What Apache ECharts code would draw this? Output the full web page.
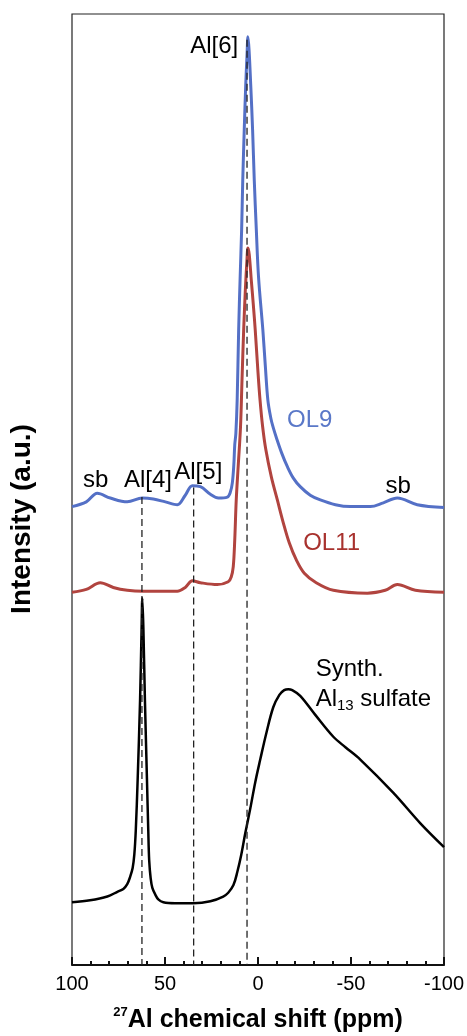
<!DOCTYPE html>
<html>
<head>
<meta charset="utf-8">
<script src="https://cdn.jsdelivr.net/npm/echarts@6/dist/echarts.min.js"></script>
<style>
  html, body { margin: 0; padding: 0; background: #fff; }
  #chart { width: 467px; height: 1036px; }
</style>
</head>
<body>
<div id="chart"></div>
<script>
// 数据（ppm, 强度 a.u.）
const ol9Ppm = [100, 92.3, 86.4, 79.4, 70.3, 62.2, 56.3, 49.8, 43.4, 39.1, 35.3, 31.0, 25.6, 21.3, 16.5, 14.9, 13.8, 13.0, 12.5, 11.9, 11.2, 10.4, 9.6, 8.8, 8.2, 7.4, 6.6, 5.9, 5.4, 4.8, 3.9, 2.9, 2.0, 0.9, -0.3, -2.6, -3.9, -5.3, -6.9, -8.2, -9.8, -12.8, -15.8, -19.0, -22.7, -28.1, -33.5, -41.6, -49.6, -60.4, -67.4, -74.9, -85.6, -100];
const ol9Int = [48.2, 48.7, 49.6, 49.1, 48.7, 49.1, 49.0, 48.7, 48.4, 49.4, 50.4, 50.3, 49.5, 49.1, 49.2, 49.7, 50.7, 52.6, 54.7, 55.9, 59.4, 66.8, 72.3, 77.3, 82.5, 87.8, 92.5, 95.7, 97.6, 96.2, 92.5, 87.8, 82.5, 77.3, 72.3, 66.8, 63.1, 59.4, 57.5, 56.5, 55.5, 53.8, 52.4, 51.2, 50.3, 49.4, 48.9, 48.4, 48.2, 48.2, 48.6, 49.1, 48.4, 48.1];

const ol11Ppm = [100, 92.3, 84.8, 77.8, 70.3, 61.7, 52.5, 43.4, 39.1, 35.3, 31.0, 21.9, 16.0, 14.4, 13.3, 12.5, 11.7, 10.6, 9.4, 8.6, 7.7, 6.8, 6.0, 5.4, 4.7, 3.6, 2.5, 1.5, 0.1, -1.1, -2.5, -4.2, -7.2, -10.4, -13.6, -16.8, -20.6, -24.9, -31.3, -40.5, -58.8, -68.4, -74.9, -84.6, -100];
const ol11Int = [39.2, 39.5, 40.2, 39.7, 39.4, 39.3, 39.3, 39.3, 39.7, 40.4, 40.2, 40.0, 40.3, 40.8, 41.9, 44.7, 48.9, 52.6, 56.6, 61.5, 66.8, 71.0, 73.9, 75.4, 74.7, 72.0, 69.4, 66.8, 62.6, 59.4, 56.6, 54.2, 51.3, 48.9, 46.5, 44.4, 42.6, 41.2, 40.2, 39.4, 39.1, 39.4, 40.0, 39.4, 39.2];

const al13Ppm = [100, 90.3, 81.0, 75.6, 72.4, 70.3, 68.7, 67.4, 66.5, 65.7, 64.7, 63.4, 62.6, 62.2, 61.6, 60.8, 59.7, 59.0, 58.5, 57.7, 56.8, 55.2, 53.6, 50.9, 44.5, 34.8, 25.6, 18.7, 16.0, 13.2, 11.1, 9.0, 6.8, 4.1, 1.5, -1.2, -4.5, -8.2, -11.5, -14.1, -16.3, -18.4, -22.7, -30.8, -40.5, -47.0, -55.0, -72.8, -87.3, -100];
const al13Int = [6.6, 6.8, 7.2, 7.7, 8.0, 8.5, 9.3, 10.2, 11.6, 14.2, 19.5, 27.9, 35.2, 38.6, 35.2, 27.9, 19.5, 14.2, 11.0, 9.1, 8.1, 7.4, 6.9, 6.6, 6.5, 6.5, 6.7, 7.2, 7.6, 8.4, 9.8, 11.6, 13.9, 16.5, 19.2, 21.6, 24.4, 27.1, 28.4, 28.9, 29.0, 28.9, 28.3, 26.3, 24.0, 22.9, 21.6, 18.1, 14.9, 12.4];

// 参考虚线 Al[4] Al[5] Al[6]
const refPpm = [62.4, 34.6, 5.9];
const refTop = [49.2, 50.2, 97.3];

// 标注文字
const annoText = ['Al[6]', 'sb', 'Al[4]', 'Al[5]', 'OL9', 'OL11', 'sb', 'Synth.', '{n|Al}{sub|13}{n| sulfate}'];
const annoPpm = [10.6, 87.3, 59.2, 32.1, -27.8, -39.6, -75.4, -31.0, -31.0];
const annoInt = [96.6, 51.0, 51.0, 51.8, 57.3, 44.3, 50.3, 31.1, 27.9];
const annoColor = ['#000', '#000', '#000', '#000', '#5a78c8', '#a8322e', '#000', '#000', '#000'];
const annoAlign = ['right', 'center', 'center', 'center', 'center', 'center', 'center', 'left', 'left'];

const zip = (xs, ys) => xs.map((x, i) => [x, ys[i]]);

const chart = echarts.init(document.getElementById('chart'));

const font = 'Liberation Sans, Arial, sans-serif';

const refSeries = refPpm.map((p, i) => ({
  type: 'line',
  data: [[p, refTop[i]], [p, 0]],
  symbol: 'none',
  silent: true,
  z: 5,
  lineStyle: { color: '#222', width: 1.3, type: [7, 4] }
}));

const curve = (name, xs, ys, color, width) => ({
  name, type: 'line', data: zip(xs, ys),
  symbol: 'none', smooth: 0.35,
  lineStyle: { color, width, join: 'round' }
});

const option = {
  animation: false,
  backgroundColor: '#fff',
  grid: {
    left: 72, right: 23, top: 14, bottom: 71,
    outerBoundsMode: 'none',
    containLabel: false,
    show: true,
    borderColor: '#222',
    borderWidth: 1.2
  },
  xAxis: {
    type: 'value',
    inverse: true,
    min: -100, max: 100, interval: 50,
    name: '{sup|27}{b|Al chemical shift (ppm)}',
    nameLocation: 'middle',
    nameGap: 41,
    nameTextStyle: {
      rich: {
        sup: { fontSize: 13, fontWeight: 'bold', color: '#000', fontFamily: font, verticalAlign: 'top', lineHeight: 28 },
        b: { fontSize: 25, fontWeight: 'bold', color: '#000', fontFamily: font, lineHeight: 28 }
      }
    },
    axisLine: { onZero: false, lineStyle: { color: '#111', width: 2 } },
    axisTick: { inside: true, length: 8, lineStyle: { color: '#111', width: 2 } },
    minorTick: { show: true, splitNumber: 5, length: 4, lineStyle: { color: '#111', width: 2 } },
    axisLabel: { fontSize: 20, color: '#000', fontFamily: font, margin: 9 },
    splitLine: { show: false }
  },
  yAxis: {
    type: 'value',
    min: 0, max: 100,
    axisLine: { show: false },
    axisTick: { show: false },
    axisLabel: { show: false },
    splitLine: { show: false }
  },
  graphic: [{
    type: 'text',
    x: 22, y: 519,
    rotation: Math.PI / 2,
    style: {
      text: 'Intensity (a.u.)',
      font: 'bold 28px ' + font,
      fill: '#000',
      textAlign: 'center',
      textVerticalAlign: 'middle'
    }
  }],
  series: [
    curve('OL9', ol9Ppm, ol9Int, '#5470c6', 3),
    curve('OL11', ol11Ppm, ol11Int, '#b1443f', 3),
    curve('Al13', al13Ppm, al13Int, '#000', 2.5),
    ...refSeries,
    {
      type: 'scatter',
      symbolSize: 0,
      silent: true,
      z: 10,
      itemStyle: { opacity: 1 },
      data: annoText.map((t, i) => ({
        value: [annoPpm[i], annoInt[i]],
        label: {
          show: true,
          position: 'inside',
          formatter: t,
          align: annoAlign[i],
          verticalAlign: 'middle',
          color: annoColor[i],
          fontSize: 24,
          fontFamily: font,
          rich: {
            n: { fontSize: 24, fontFamily: font, color: annoColor[i] },
            sub: { fontSize: 15, fontFamily: font, color: annoColor[i], verticalAlign: 'bottom', padding: [12, 0, 0, 0] }
          }
        }
      }))
    }
  ]
};

chart.setOption(option);
</script>
</body>
</html>
